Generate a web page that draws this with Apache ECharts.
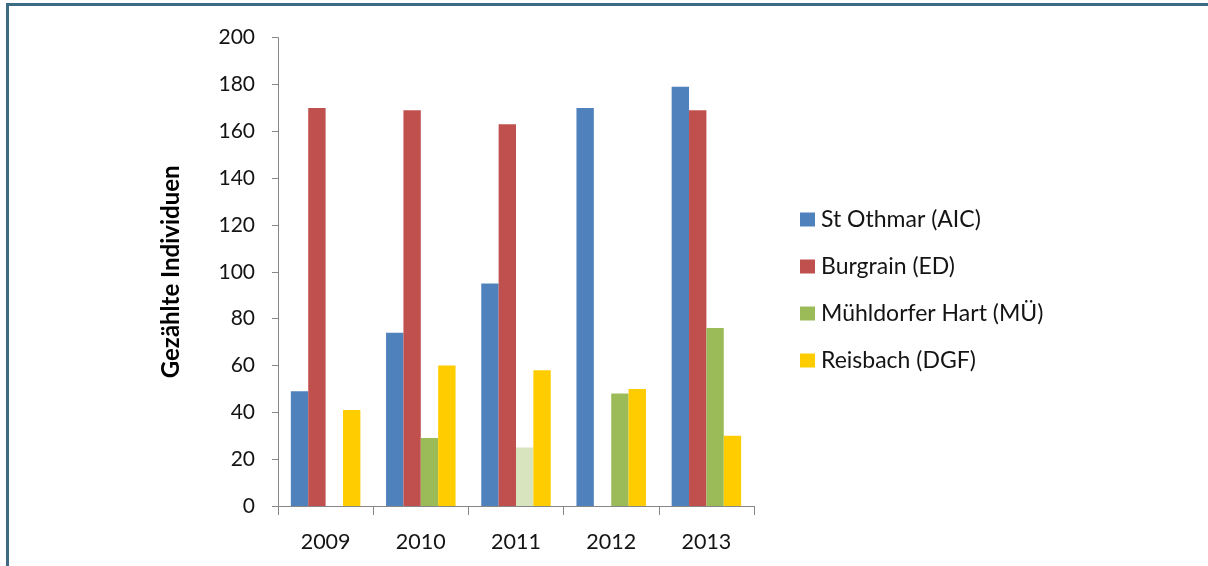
<!DOCTYPE html>
<html>
<head>
<meta charset="utf-8">
<script src="https://cdn.jsdelivr.net/npm/echarts@6/dist/echarts.min.js"></script>
<style>
  html, body { margin: 0; padding: 0; background: #fff; }
  #chart { width: 1208px; height: 566px; }
</style>
</head>
<body>
<div id="chart"></div>
<script>
// Counted individuals per site and year
const years = ['2009', '2010', '2011', '2012', '2013'];
const stOthmar = [49, 74, 95, 170, 179];
const burgrain = [170, 169, 163, null, 169];
const muehldorf = [null, 29, 25, 48, 76];
const reisbach = [41, 60, 58, 50, 30];
const seriesNames = ['St Othmar (AIC)', 'Burgrain (ED)', 'Mühldorfer Hart (MÜ)', 'Reisbach (DGF)'];
const yTicks = [0, 20, 40, 60, 80, 100, 120, 140, 160, 180, 200];

const colors = ['#4f81bd', '#c0504d', '#9bbb59', '#ffcc00'];
const FONT = 'Lato, "Liberation Sans", sans-serif';
const axisGray = '#868686';
const textColor = '#141414';

// the 2011 Mühldorfer Hart count is shown in a paler green
const muehldorfData = muehldorf.map((v, i) =>
  years[i] === '2011' ? { value: v, itemStyle: { color: '#d7e4bd' } } : v
);

const chart = echarts.init(document.getElementById('chart'), null, { renderer: 'canvas' });

chart.setOption({
  animation: false,
  color: colors,
  textStyle: { fontFamily: FONT },
  grid: { left: 278, right: 454, top: 37.7, bottom: 60, containLabel: false },
  legend: {
    orient: 'vertical',
    left: 795,
    top: 203,
    itemWidth: 15,
    itemHeight: 14,
    itemGap: 24,
    icon: 'rect',
    data: seriesNames,
    textStyle: { fontFamily: FONT, fontSize: 23, color: textColor, padding: [0, 0, 0, 1] }
  },
  xAxis: {
    type: 'category',
    data: years,
    axisLine: { lineStyle: { color: axisGray, width: 1 } },
    axisTick: { show: true, length: 9, lineStyle: { color: axisGray } },
    axisLabel: { fontSize: 21.5, color: textColor, margin: 25, fontFamily: FONT },
    splitLine: { show: false }
  },
  yAxis: {
    type: 'value',
    min: yTicks[0],
    max: yTicks[yTicks.length - 1],
    interval: 20,
    name: 'Gezählte Individuen',
    nameLocation: 'middle',
    nameGap: 95,
    nameRotate: 90,
    nameTextStyle: { fontSize: 24, fontWeight: 'bold', color: '#000', fontFamily: FONT },
    axisLine: { show: true, lineStyle: { color: axisGray, width: 1 } },
    axisTick: { show: true, length: 6, lineStyle: { color: axisGray } },
    axisLabel: { fontSize: 21, color: textColor, margin: 23, fontFamily: FONT },
    splitLine: { show: false }
  },
  series: [
    { name: seriesNames[0], type: 'bar', data: stOthmar, barGap: '0%', barCategoryGap: '27%' },
    { name: seriesNames[1], type: 'bar', data: burgrain },
    { name: seriesNames[2], type: 'bar', data: muehldorfData },
    { name: seriesNames[3], type: 'bar', data: reisbach }
  ],
  graphic: [
    { type: 'rect', shape: { x: 6, y: 3, width: 1202, height: 3 }, style: { fill: '#3e6b84' }, silent: true },
    { type: 'rect', shape: { x: 6, y: 3, width: 3, height: 563 }, style: { fill: '#3e6b84' }, silent: true }
  ]
});
</script>
</body>
</html>
